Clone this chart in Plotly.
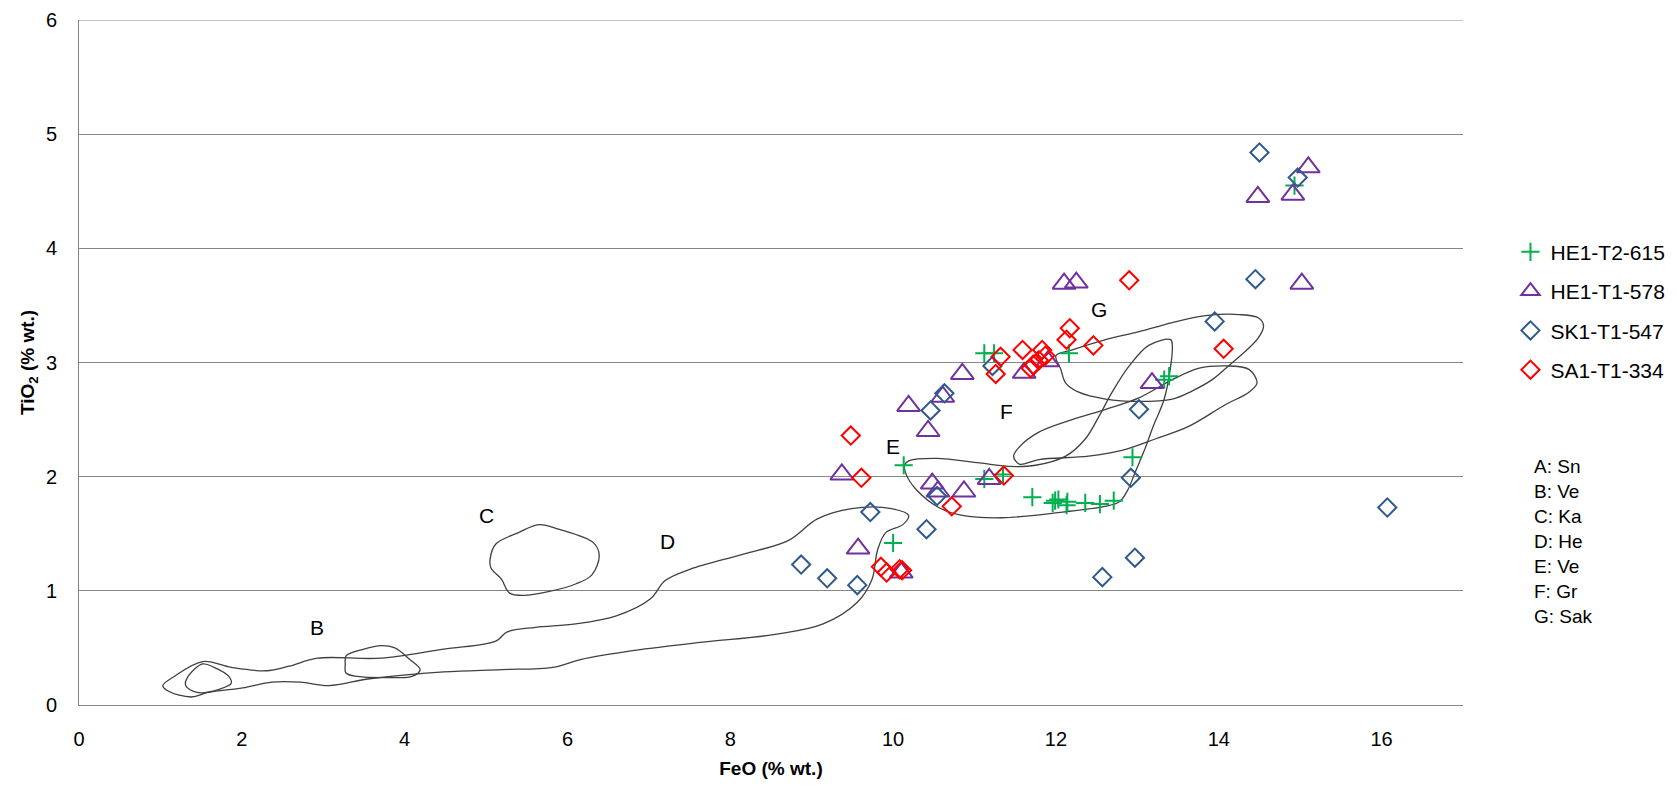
import plotly.graph_objects as go

# ---------------- data ----------------
he1_t2_615_x = [14.93, 10.13, 10.00, 11.12, 11.35, 11.71, 11.96, 11.99, 12.03, 12.14, 12.13,
                12.36, 12.54, 12.71, 12.94, 13.33, 13.39, 11.12, 11.24, 12.16]
he1_t2_615_y = [4.55, 2.10, 1.42, 1.98, 2.02, 1.82, 1.77, 1.79, 1.80, 1.78, 1.75,
                1.77, 1.76, 1.79, 2.17, 2.85, 2.88, 3.08, 3.08, 3.08]

he1_t1_578_x = [15.10, 14.48, 14.91, 15.02, 12.10, 12.25, 13.18, 11.61, 11.90, 10.85, 10.61,
                10.19, 10.43, 9.37, 10.48, 10.55, 10.87, 11.18, 9.57, 10.10]
he1_t1_578_y = [4.71, 4.45, 4.47, 3.69, 3.69, 3.70, 2.82, 2.91, 3.01, 2.90, 2.70,
                2.62, 2.40, 2.02, 1.94, 1.87, 1.87, 1.98, 1.37, 1.16]

sk1_t1_547_x = [14.50, 14.97, 14.45, 13.95, 16.07, 11.22, 10.63, 10.46, 10.54, 9.72, 10.41,
                8.87, 9.19, 9.56, 13.02, 12.92, 12.57, 12.97]
sk1_t1_547_y = [4.84, 4.62, 3.73, 3.36, 1.73, 2.97, 2.73, 2.58, 1.83, 1.69, 1.54,
                1.23, 1.11, 1.05, 2.59, 1.99, 1.12, 1.29]

sa1_t1_334_x = [12.90, 12.17, 12.13, 12.46, 14.06, 11.32, 11.26, 11.59, 11.83, 11.87, 11.79,
                11.72, 11.69, 9.48, 9.61, 11.36, 10.72, 9.85, 9.92, 10.08, 10.11]
sa1_t1_334_y = [3.72, 3.30, 3.20, 3.15, 3.12, 3.05, 2.90, 3.11, 3.11, 3.06, 3.02,
                2.98, 2.95, 2.36, 1.99, 2.01, 1.74, 1.21, 1.16, 1.19, 1.18]

field_a_x = [1.34, 1.52, 1.66, 1.84, 1.87, 1.73, 1.45, 1.31, 1.34]
field_a_y = [0.25, 0.36, 0.33, 0.25, 0.19, 0.14, 0.11, 0.17, 0.25]

field_b_x = [3.28, 3.50, 3.71, 3.88, 4.06, 4.19, 4.09, 3.85, 3.42, 3.28, 3.27, 3.28]
field_b_y = [0.43, 0.49, 0.52, 0.50, 0.40, 0.31, 0.25, 0.24, 0.25, 0.28, 0.36, 0.43]

field_c_x = [5.05, 5.12, 5.40, 5.65, 5.89, 6.32, 6.39, 6.30, 6.10, 5.75, 5.47, 5.29, 5.19, 5.06, 5.05]
field_c_y = [1.28, 1.41, 1.51, 1.58, 1.54, 1.42, 1.31, 1.14, 1.06, 0.99, 0.96, 0.98, 1.10, 1.20, 1.28]

field_d_x = [1.03, 1.17, 1.52, 1.87, 2.30, 2.58, 2.93, 3.71, 4.48, 5.12, 5.26, 5.61, 6.10, 6.60,
             7.02, 7.20, 7.51, 8.15, 8.71, 9.07, 9.49, 9.98, 10.19, 10.12, 9.91, 9.81, 9.74,
             9.56, 9.14, 8.57, 7.66, 6.74, 6.17, 5.82, 5.19, 4.48, 3.57, 3.07, 2.72, 2.37,
             2.01, 1.59, 1.38, 1.10, 1.03]
field_d_y = [0.17, 0.25, 0.38, 0.33, 0.30, 0.34, 0.41, 0.41, 0.49, 0.56, 0.64, 0.68, 0.71, 0.78,
             0.93, 1.09, 1.19, 1.32, 1.44, 1.63, 1.72, 1.72, 1.66, 1.58, 1.51, 1.36, 1.10,
             0.90, 0.71, 0.62, 0.55, 0.47, 0.40, 0.33, 0.31, 0.29, 0.23, 0.17, 0.20, 0.20,
             0.15, 0.11, 0.07, 0.12, 0.17]

field_e_x = [10.14, 10.20, 10.53, 11.06, 11.42, 11.75, 12.12, 12.36, 12.53, 12.69, 12.90, 13.14,
             13.41, 13.43, 13.41, 13.33, 13.20, 13.08, 12.98, 12.88, 12.78, 12.60, 12.08, 11.34,
             10.85, 10.56, 10.28, 10.16, 10.14]
field_e_y = [2.10, 2.14, 2.16, 2.12, 2.09, 2.10, 2.18, 2.33, 2.53, 2.74, 2.97, 3.15,
             3.20, 3.14, 2.97, 2.68, 2.45, 2.22, 2.05, 1.88, 1.78, 1.74, 1.69, 1.64,
             1.66, 1.73, 1.89, 2.02, 2.10]

field_f_x = [11.48, 11.55, 11.79, 12.20, 12.61, 13.02, 13.43, 13.76, 14.08, 14.37, 14.47, 14.37,
             14.08, 13.63, 13.22, 12.81, 12.40, 11.79, 11.55, 11.48]
field_f_y = [2.18, 2.26, 2.39, 2.50, 2.59, 2.69, 2.85, 2.95, 2.97, 2.94, 2.82, 2.74,
             2.63, 2.44, 2.33, 2.23, 2.18, 2.15, 2.11, 2.18]

field_g_x = [12.00, 12.20, 12.61, 13.02, 13.43, 13.84, 14.25, 14.49, 14.55, 14.49, 14.33, 14.12,
             13.92, 13.67, 13.43, 13.02, 12.61, 12.28, 12.12, 12.06, 12.00]
field_g_y = [3.06, 3.11, 3.20, 3.27, 3.35, 3.41, 3.42, 3.39, 3.32, 3.22, 3.10, 2.97,
             2.85, 2.75, 2.68, 2.66, 2.68, 2.74, 2.82, 2.94, 3.06]

field_label_text = ["B", "C", "D", "E", "F", "G"]
field_label_x = [2.92, 5.00, 7.23, 10.00, 11.39, 12.53]
field_label_y = [0.68, 1.66, 1.43, 2.26, 2.57, 3.46]

key_lines = ["A: Sn", "B: Ve", "C: Ka", "D: He", "E: Ve", "F: Gr", "G: Sak"]

x_ticks = [0, 2, 4, 6, 8, 10, 12, 14, 16]
y_ticks = [0, 1, 2, 3, 4, 5, 6]

# ---------------- figure ----------------
FONT = "Liberation Sans, Arial, sans-serif"
GRID = "#868686"
fig = go.Figure()

fields = [(field_a_x, field_a_y), (field_b_x, field_b_y), (field_c_x, field_c_y),
          (field_d_x, field_d_y), (field_e_x, field_e_y), (field_f_x, field_f_y),
          (field_g_x, field_g_y)]
for fx, fy in fields:
    fig.add_trace(go.Scatter(x=fx, y=fy, mode="lines", showlegend=False, hoverinfo="skip",
                             line=dict(color="#404040", width=1.3, shape="spline", smoothing=1.0)))

series = [
    ("HE1-T2-615", he1_t2_615_x, he1_t2_615_y, "cross-thin-open", "#00B050", 13),
    ("HE1-T1-578", he1_t1_578_x, he1_t1_578_y, "triangle-up-open", "#7030A0", 20),
    ("SK1-T1-547", sk1_t1_547_x, sk1_t1_547_y, "diamond-open", "#2F5A8C", 14),
    ("SA1-T1-334", sa1_t1_334_x, sa1_t1_334_y, "diamond-open", "#FF0000", 14),
]
for name, sx, sy, sym, col, sz in series:
    fig.add_trace(go.Scatter(x=sx, y=sy, mode="markers", name=name, legendgroup=name,
                             marker=dict(symbol=sym, size=sz, color=col,
                                         line=dict(color=col, width=2))))

for t, lx, ly in zip(field_label_text, field_label_x, field_label_y):
    fig.add_annotation(x=lx, y=ly, text=t, showarrow=False,
                       font=dict(family=FONT, size=21, color="#000000"))

for i, line in enumerate(key_lines):
    fig.add_annotation(xref="paper", yref="paper", x=1.0495, y=0.348 - i * 0.0365,
                       xanchor="left", yanchor="middle", text=line, showarrow=False,
                       font=dict(family=FONT, size=19, color="#000000"))

# top gridline at the highest y tick (plotly omits the gridline at the range edge)
fig.add_shape(type="line", xref="paper", x0=0, x1=1, yref="y", y0=y_ticks[-1], y1=y_ticks[-1],
              line=dict(color=GRID, width=1), layer="below")

fig.update_layout(
    width=1677, height=786,
    margin=dict(l=79, r=214, t=20, b=81, autoexpand=False),
    paper_bgcolor="white", plot_bgcolor="white",
    font=dict(family=FONT, size=20, color="#000000"),
    legend=dict(x=1.0343, y=0.691, xanchor="left", yanchor="top",
                font=dict(family=FONT, size=21, color="#000000"),
                tracegroupgap=9, itemwidth=30, bgcolor="rgba(0,0,0,0)"),
    xaxis=dict(range=[0, 17], tickvals=x_ticks, showgrid=False, zeroline=False,
               showline=True, linecolor=GRID, linewidth=1, ticks="", automargin=False,
               tickfont=dict(family=FONT, size=20), ticklabelstandoff=16,
               title=dict(text="<b>FeO (% wt.)</b>", font=dict(family=FONT, size=19), standoff=12)),
    yaxis=dict(range=[0, 6], tickvals=y_ticks, showgrid=True, gridcolor=GRID, gridwidth=1,
               zeroline=False, showline=True, linecolor=GRID, linewidth=1, ticks="",
               automargin=False,
               tickfont=dict(family=FONT, size=20), ticklabelstandoff=17,
               title=dict(text="<b>TiO<sub>2</sub> (% wt.)</b>", font=dict(family=FONT, size=19), standoff=6)),
)

fig.write_html("out.html", config={"displayModeBar": False},
               post_script="document.body.style.margin='0';")
